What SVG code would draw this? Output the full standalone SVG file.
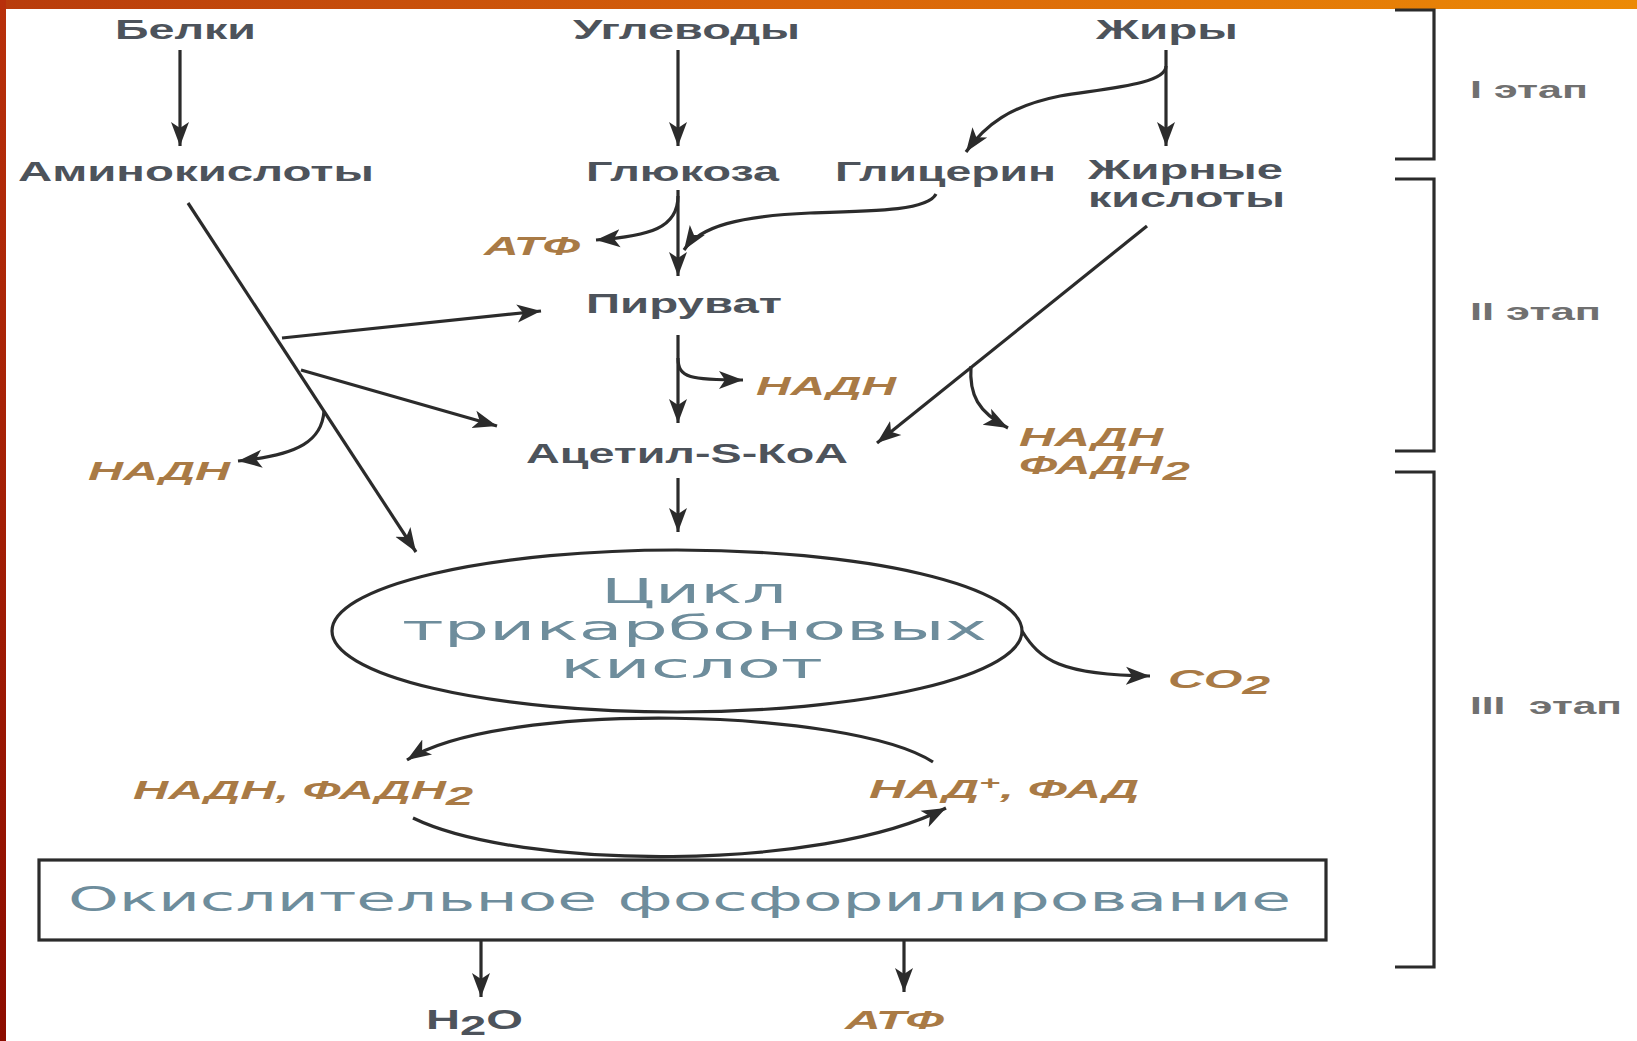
<svg xmlns="http://www.w3.org/2000/svg" width="1637" height="1041" viewBox="0 0 1637 1041">
<defs>
<linearGradient id="topbar" x1="0" y1="0" x2="1" y2="0">
<stop offset="0" stop-color="#b83c0c"/>
<stop offset="0.5" stop-color="#d8640a"/>
<stop offset="1" stop-color="#ec8a06"/>
</linearGradient>
<linearGradient id="leftbar" x1="0" y1="0" x2="0" y2="1">
<stop offset="0" stop-color="#b8300a"/>
<stop offset="1" stop-color="#8c0c00"/>
</linearGradient>
<marker id="ah" markerUnits="userSpaceOnUse" markerWidth="26" markerHeight="22" viewBox="0 0 26 22" refX="24" refY="11" orient="auto">
<path d="M0,2 L24,11 L0,20 L6,11 z" fill="#2b2b2b"/>
</marker>
<style>
.lbl{font-family:"Liberation Sans",Arial,sans-serif;font-weight:bold;font-size:27px;fill:#4d535b}
.org{font-family:"Liberation Sans",Arial,sans-serif;font-weight:bold;font-style:italic;font-size:25px;fill:#a97a45}
.cyc{font-family:"DejaVu Sans","Liberation Sans",sans-serif;font-size:34px;fill:#6e8d9c}
.stg{font-family:"Liberation Sans",Arial,sans-serif;font-weight:bold;font-size:23px;fill:#707070}
.ln{fill:none;stroke:#2b2b2b;stroke-width:3.2}
.arw{marker-end:url(#ah)}
</style>
</defs>
<rect x="0" y="0" width="1637" height="1041" fill="#ffffff"/>
<rect x="0" y="0" width="1637" height="9" fill="url(#topbar)"/>
<rect x="0" y="0" width="6" height="1041" fill="url(#leftbar)"/>

<g id="connectors">
<path class="ln arw" d="M180,50 L180,146"/>
<path class="ln arw" d="M678,50 L678,146"/>
<path class="ln arw" d="M1166,50 L1166,146"/>
<path class="ln arw" d="M1166,66 C1166,84 1110,88 1060,96 C1010,106 985,125 966,152"/>
<path class="ln arw" d="M678,190 L678,276"/>
<path class="ln arw" d="M678,196 C678,228 650,236 596,240"/>
<path class="ln arw" d="M936,194 C928,210 880,211 810,213 C740,216 700,226 684,250"/>
<path class="ln arw" d="M188,203 L416,552"/>
<path class="ln arw" d="M282,338 L541,311"/>
<path class="ln arw" d="M301,370 L497,426"/>
<path class="ln arw" d="M324,411 C322,440 300,455 238,461"/>
<path class="ln arw" d="M678,335 L678,423"/>
<path class="ln arw" d="M678,358 C678,378 690,380 743,380"/>
<path class="ln arw" d="M1147,226 L877,443"/>
<path class="ln arw" d="M971,366 C969,395 978,412 1008,428"/>
<path class="ln arw" d="M678,478 L678,532"/>
<path class="ln arw" d="M1022,631 C1040,660 1060,675 1150,676"/>
<path class="ln arw" d="M933,762 C850,708 500,700 407,760"/>
<path class="ln arw" d="M413,818 C520,870 820,872 946,808"/>
<path class="ln arw" d="M481,940 L481,997"/>
<path class="ln arw" d="M904,940 L904,992"/>
</g>

<g id="brackets">
<path class="ln" d="M1395,10 L1434,10 L1434,159 L1395,159"/>
<path class="ln" d="M1395,179 L1434,179 L1434,451 L1395,451"/>
<path class="ln" d="M1395,472 L1434,472 L1434,967 L1395,967"/>
</g>

<g id="n-belki"><text class="lbl" x="115" y="39" textLength="141" lengthAdjust="spacingAndGlyphs">Белки</text></g>
<g id="n-uglevody"><text class="lbl" x="573" y="39" textLength="227" lengthAdjust="spacingAndGlyphs">Углеводы</text></g>
<g id="n-zhiry"><text class="lbl" x="1096" y="39" textLength="142" lengthAdjust="spacingAndGlyphs">Жиры</text></g>
<g id="n-amino"><text class="lbl" x="18" y="181" textLength="356" lengthAdjust="spacingAndGlyphs">Аминокислоты</text></g>
<g id="n-glukoza"><text class="lbl" x="586" y="181" textLength="193" lengthAdjust="spacingAndGlyphs">Глюкоза</text></g>
<g id="n-glicerin"><text class="lbl" x="835" y="181" textLength="221" lengthAdjust="spacingAndGlyphs">Глицерин</text></g>
<g id="n-zhirnye">
<text class="lbl" x="1088" y="179" textLength="195" lengthAdjust="spacingAndGlyphs">Жирные</text>
<text class="lbl" x="1088" y="207" textLength="197" lengthAdjust="spacingAndGlyphs">кислоты</text>
</g>
<g id="n-atf1"><text class="org" x="484" y="255" textLength="96" lengthAdjust="spacingAndGlyphs">АТФ</text></g>
<g id="n-piruvat"><text class="lbl" x="586" y="313" textLength="196" lengthAdjust="spacingAndGlyphs">Пируват</text></g>
<g id="n-nadh1"><text class="org" x="756" y="395" textLength="140" lengthAdjust="spacingAndGlyphs">НАДН</text></g>
<g id="n-nadh2"><text class="org" x="88" y="480" textLength="142" lengthAdjust="spacingAndGlyphs">НАДН</text></g>
<g id="n-acetil"><text class="lbl" x="526" y="463" textLength="322" lengthAdjust="spacingAndGlyphs">Ацетил-S-КоА</text></g>
<g id="n-nadh-fadh2">
<text class="org" x="1019" y="446" textLength="144" lengthAdjust="spacingAndGlyphs">НАДН</text>
<text class="org" x="1019" y="474" textLength="171" lengthAdjust="spacingAndGlyphs">ФАДН<tspan dy="6">2</tspan></text>
</g>
<g id="n-cycle">
<ellipse cx="677" cy="631" rx="345" ry="81" fill="none" stroke="#2b2b2b" stroke-width="3.2"/>
<text class="cyc" x="601" y="603" textLength="186" lengthAdjust="spacingAndGlyphs">Цикл</text>
<text class="cyc" x="402" y="640" textLength="585" lengthAdjust="spacingAndGlyphs">трикарбоновых</text>
<text class="cyc" x="560" y="678" textLength="263" lengthAdjust="spacingAndGlyphs">кислот</text>
</g>
<g id="n-co2"><text class="org" x="1168" y="688" textLength="102" lengthAdjust="spacingAndGlyphs">СО<tspan dy="6">2</tspan></text></g>
<g id="n-nadh-fadh2-b"><text class="org" x="133" y="799" textLength="340" lengthAdjust="spacingAndGlyphs">НАДН, ФАДН<tspan dy="6">2</tspan></text></g>
<g id="n-nad-fad"><text class="org" x="869" y="798" textLength="270" lengthAdjust="spacingAndGlyphs">НАД<tspan dy="-9" font-size="18">+</tspan><tspan dy="9">, ФАД</tspan></text></g>
<g id="n-oxphos">
<rect x="39" y="860" width="1287" height="80" fill="none" stroke="#2b2b2b" stroke-width="3.2"/>
<text class="cyc" x="68" y="911" textLength="1223" lengthAdjust="spacingAndGlyphs">Окислительное фосфорилирование</text>
</g>
<g id="n-h2o"><text class="lbl" x="426" y="1029" textLength="97" lengthAdjust="spacingAndGlyphs">H<tspan dy="6">2</tspan><tspan dy="-6">O</tspan></text></g>
<g id="n-atf2"><text class="org" x="845" y="1029" textLength="99" lengthAdjust="spacingAndGlyphs">АТФ</text></g>
<g id="n-stage1"><text class="stg" x="1470" y="98" textLength="118" lengthAdjust="spacingAndGlyphs">I этап</text></g>
<g id="n-stage2"><text class="stg" x="1470" y="320" textLength="131" lengthAdjust="spacingAndGlyphs">II этап</text></g>
<g id="n-stage3"><text class="stg" x="1470" y="714" textLength="152" lengthAdjust="spacingAndGlyphs" xml:space="preserve">III  этап</text></g>
</svg>
